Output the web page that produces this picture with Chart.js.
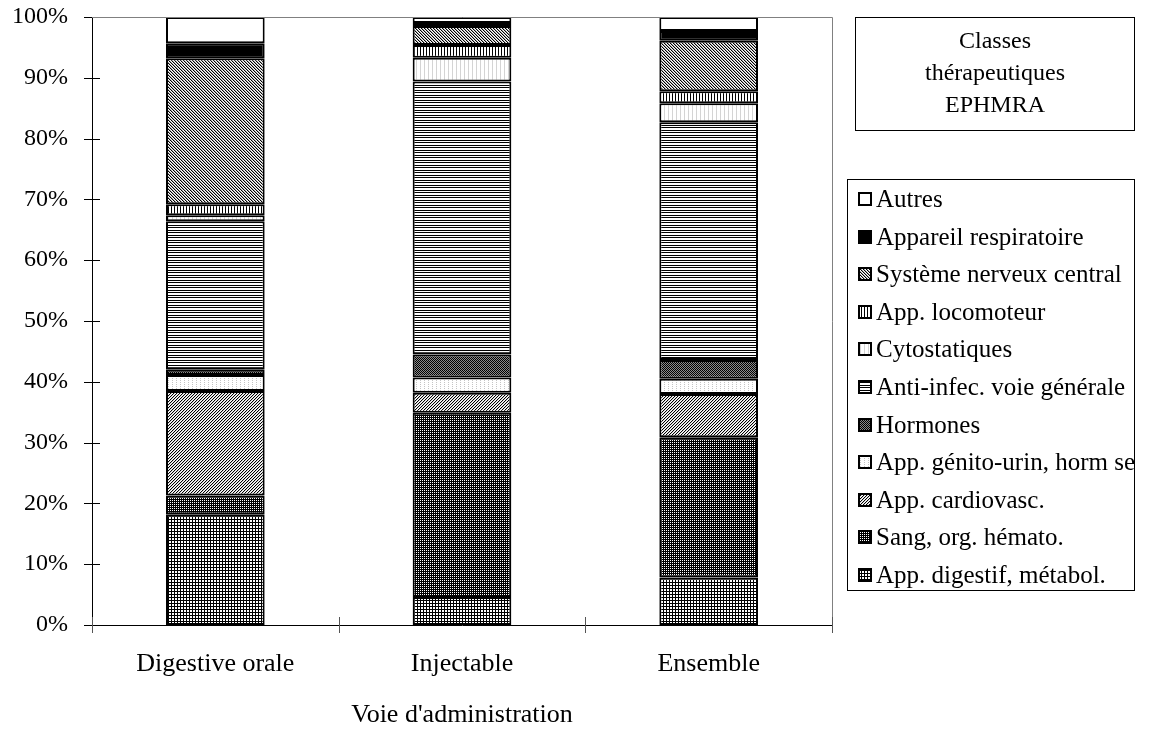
<!DOCTYPE html>
<html><head><meta charset="utf-8">
<script src="https://cdn.jsdelivr.net/npm/chart.js@4.4.1/dist/chart.umd.min.js"></script>
<style>html,body{margin:0;padding:0;background:#fff}#wrap{width:1165px;height:731px;position:relative}</style>
</head><body><div id="wrap"><canvas id="c" width="1165" height="731"></canvas></div>
<script>
// ---- data (percent shares, bottom to top of each stack) ----
const categories = ['Digestive orale', 'Injectable', 'Ensemble'];
const axisTitle = "Voie d'administration";
const legendTitle = ['Classes', 'thérapeutiques', 'EPHMRA'];
const yTickValues = [0, 10, 20, 30, 40, 50, 60, 70, 80, 90, 100];

const appDigestif   = [18.2, 4.6, 7.8];
const sangHemato    = [3.1, 30.3, 23.1];
const appCardio     = [17.2, 3.3, 7.1];
const appGenito     = [2.6, 2.5, 2.5];
const hormones      = [0.9, 3.8, 3.1];
const antiInfec     = [24.4, 44.9, 39.1];
const cytostatiques = [1.0, 3.9, 3.1];
const appLocomoteur = [1.8, 2.1, 2.0];
const systemeNerv   = [24.0, 3.1, 8.3];
const appRespir     = [2.5, 0.5, 1.6];
const autres        = [4.3, 1.0, 2.3];

const seriesNames = ['App. digestif, métabol.', 'Sang, org. hémato.', 'App. cardiovasc.', 'App. génito-urin, horm sex',
  'Hormones', 'Anti-infec. voie générale', 'Cytostatiques', 'App. locomoteur', 'Système nerveux central',
  'Appareil respiratoire', 'Autres'];
const seriesValues = [appDigestif, sangHemato, appCardio, appGenito, hormones, antiInfec, cytostatiques,
  appLocomoteur, systemeNerv, appRespir, autres];

// ---- patterns ----
const canvas = document.getElementById('c');
const ctx0 = canvas.getContext('2d');
function pat(w, h, fn) {
  const c = document.createElement('canvas'); c.width = w; c.height = h;
  const x = c.getContext('2d'); x.fillStyle = '#fff'; x.fillRect(0, 0, w, h);
  for (let py = 0; py < h; py++) for (let px = 0; px < w; px++) {
    const col = fn(px, py); if (col) { x.fillStyle = col; x.fillRect(px, py, 1, 1); }
  }
  return ctx0.createPattern(c, 'repeat');
}
const fills = [
  pat(3, 3, (x, y) => (x === 0 || y === 0) ? '#000' : null),                 // digestif grid
  pat(2, 2, (x, y) => (x === 0 && y === 0) ? '#fff' : '#000'),               // sang dark
  pat(3, 3, (x, y) => ((x + y) % 3 === 2) ? '#000' : ((x + y) % 3 === 0 ? '#d0d0d0' : null)), // cardio /
  pat(4, 2, (x, y) => (x === 0 && y === 0) ? '#c4c4c4' : null),              // genito light
  pat(2, 2, (x, y) => ((x + y) % 2 === 0) ? '#000' : '#8a8a8a'),             // hormones
  pat(1, 5, (x, y) => (y === 0 || y === 2) ? '#000' : null),                 // anti-infec horizontal
  pat(4, 2, (x, y) => (x === 0) ? '#d4d4d4' : null),                         // cytostatiques
  pat(3, 1, (x, y) => x === 0 ? '#000' : null),                              // locomoteur vertical
  pat(3, 3, (x, y) => ((x - y + 6) % 3 === 0) ? '#000' : ((x - y + 6) % 3 === 1 ? '#aaa' : null)), // SNC \
  '#000000',                                                                 // respiratoire
  '#ffffff'                                                                  // autres
];

const FONT = '"Liberation Serif", "Times New Roman", serif';

const decor = {
  id: 'decor',
  afterDraw(chart) {
    const ctx = chart.ctx, ca = chart.chartArea;
    const ys = chart.scales.y;
    ctx.save();
    // frame top & right
    ctx.strokeStyle = '#808080'; ctx.lineWidth = 1;
    ctx.beginPath();
    ctx.moveTo(ca.left, Math.round(ca.top) + 0.5); ctx.lineTo(Math.round(ca.right) + 0.5, Math.round(ca.top) + 0.5);
    ctx.lineTo(Math.round(ca.right) + 0.5, ca.bottom);
    ctx.stroke();
    // y tick marks crossing axis
    ctx.strokeStyle = '#000';
    ctx.beginPath();
    yTickValues.forEach(v => {
      const y = Math.round(ys.getPixelForValue(v)) + 0.5;
      ctx.moveTo(ca.left - 8, y); ctx.lineTo(v === 100 || v === 0 ? ca.left : ca.left + 8, y);
    });
    ctx.stroke();
    // x tick marks at category boundaries
    ctx.strokeStyle = '#555';
    ctx.beginPath();
    for (let i = 0; i <= categories.length; i++) {
      const x = Math.round(ca.left + (ca.right - ca.left) * i / categories.length) + 0.5;
      ctx.moveTo(x, ca.bottom - 8); ctx.lineTo(x, ca.bottom + 8);
    }
    ctx.stroke();
    // legend title box
    ctx.strokeStyle = '#000'; ctx.lineWidth = 1;
    ctx.strokeRect(855.5, 17.5, 279, 113);
    ctx.fillStyle = '#000'; ctx.font = '24px ' + FONT;
    ctx.textAlign = 'center'; ctx.textBaseline = 'middle';
    legendTitle.forEach((t, i) => ctx.fillText(t, 995, 42 + i * 32));
    // legend box
    ctx.strokeRect(847.5, 179.5, 287, 411);
    ctx.beginPath(); ctx.rect(848, 180, 286, 410); ctx.clip();
    const ds = chart.data.datasets;
    ctx.textAlign = 'left';
    ctx.font = '25px ' + FONT;
    for (let k = 0; k < ds.length; k++) {
      const d = ds[ds.length - 1 - k];
      const y = Math.round(199 + k * 37.6);
      ctx.fillStyle = d.backgroundColor; ctx.fillRect(858, y - 7, 14, 14);
      ctx.lineWidth = 2; ctx.strokeStyle = '#000'; ctx.strokeRect(859, y - 6, 12, 12);
      ctx.fillStyle = '#000'; ctx.fillText(d.label, 876, y + 1);
    }
    ctx.restore();
  }
};

new Chart(canvas, {
  type: 'bar',
  data: {
    labels: categories,
    datasets: seriesNames.map((n, i) => ({
      label: n, data: seriesValues[i], backgroundColor: fills[i],
      borderColor: '#000', borderWidth: 2, borderSkipped: false,
      barPercentage: 0.4, categoryPercentage: 1
    }))
  },
  options: {
    responsive: false, animation: false, devicePixelRatio: 1,
    layout: { padding: { top: 17, right: 333, left: 0, bottom: 0 } },
    plugins: { legend: { display: false }, tooltip: { enabled: false } },
    scales: {
      x: {
        stacked: true,
        grid: { display: false, drawTicks: false },
        border: { display: true, color: '#000', width: 1 },
        ticks: { color: '#000', font: { family: FONT, size: 26 }, padding: 24 },
        title: { display: true, text: axisTitle, color: '#000', font: { family: FONT, size: 26 }, padding: { top: 0, bottom: 0 } },
        afterFit(s) { s.height = 106; s.paddingLeft = 0; s.paddingRight = 0; }
      },
      y: {
        stacked: true, min: 0, max: 100,
        grid: { display: false, drawTicks: false },
        border: { display: true, color: '#000', width: 1 },
        afterBuildTicks(s) { s.ticks = yTickValues.map(v => ({ value: v })); },
        ticks: { color: '#000', font: { family: FONT, size: 24 }, padding: 24, callback: v => v + '%' },
        afterFit(s) { s.width = 92; s.paddingTop = 0; s.paddingBottom = 0; }
      }
    }
  },
  plugins: [decor]
});
</script></body></html>
